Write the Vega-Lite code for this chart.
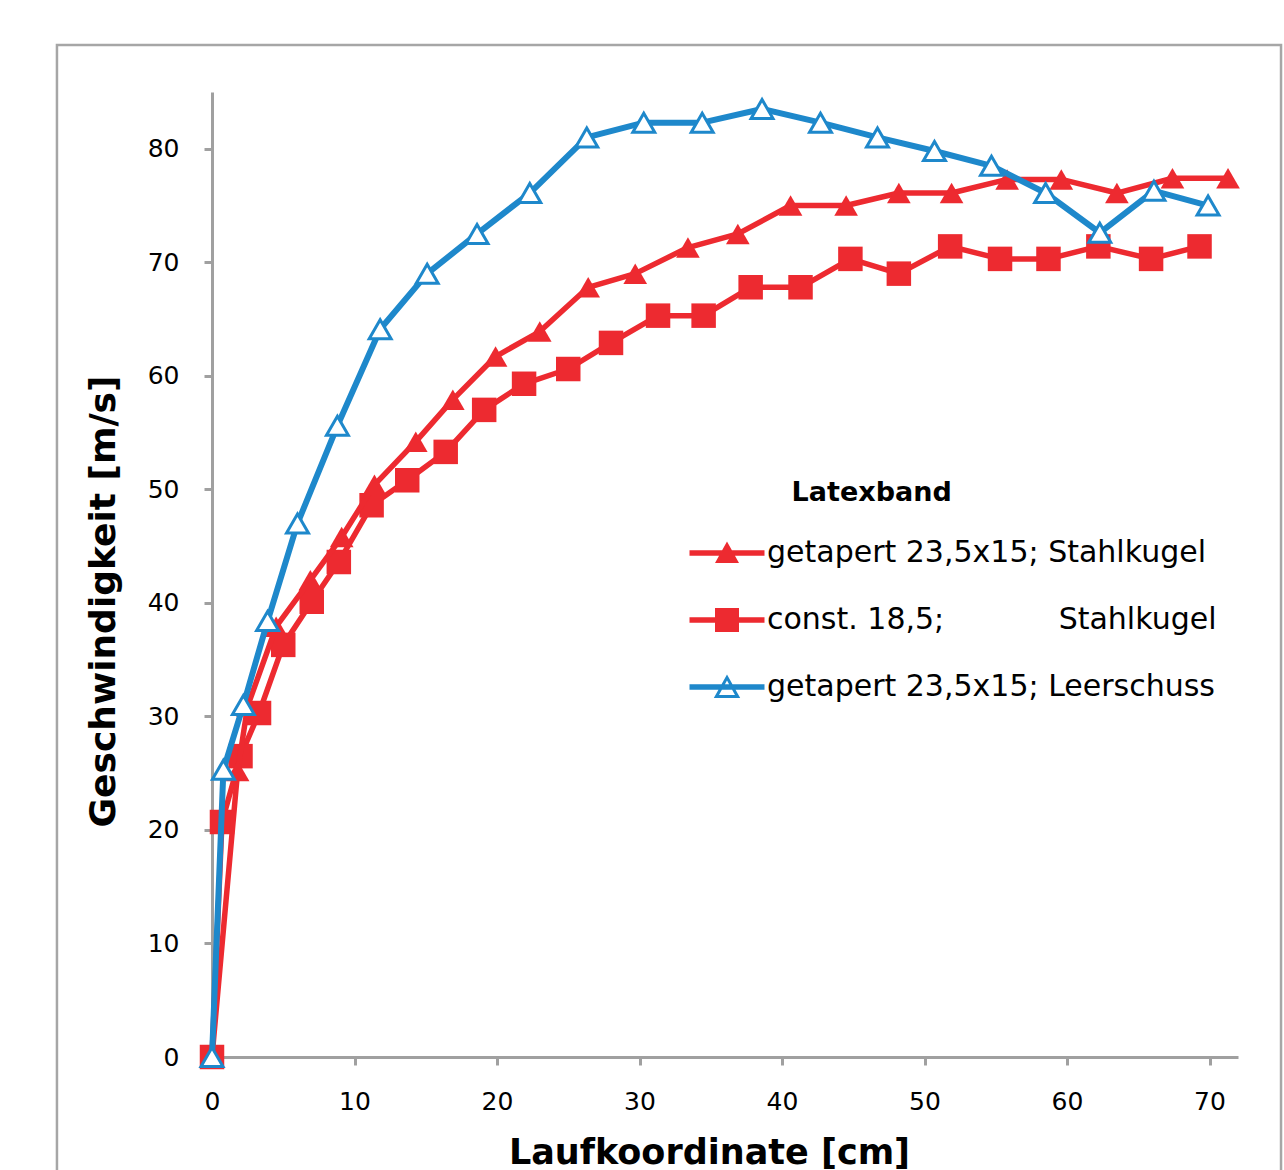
{
  "$schema": "https://vega.github.io/schema/vega-lite/v6.json",
  "autosize": {"type": "none"},
  "width": 1026,
  "height": 965,
  "padding": {"left": 212, "top": 92, "right": 46, "bottom": 113},
  "background": "white",
  "config": {
    "view": {"stroke": null},
    "font": "DejaVu Sans",
    "axis": {"grid": false}
  },
  "datasets": {
    "messung": [
      {"Serie": "getapert 23,5x15; Stahlkugel", "x": 0, "y": 0},
      {"Serie": "getapert 23,5x15; Stahlkugel", "x": 1.8, "y": 25.2},
      {"Serie": "getapert 23,5x15; Stahlkugel", "x": 2.5, "y": 30.9},
      {"Serie": "getapert 23,5x15; Stahlkugel", "x": 4.5, "y": 37.9},
      {"Serie": "getapert 23,5x15; Stahlkugel", "x": 6.9, "y": 42.0},
      {"Serie": "getapert 23,5x15; Stahlkugel", "x": 9.1, "y": 45.8},
      {"Serie": "getapert 23,5x15; Stahlkugel", "x": 11.4, "y": 50.4},
      {"Serie": "getapert 23,5x15; Stahlkugel", "x": 14.3, "y": 54.2},
      {"Serie": "getapert 23,5x15; Stahlkugel", "x": 16.9, "y": 57.9},
      {"Serie": "getapert 23,5x15; Stahlkugel", "x": 19.9, "y": 61.7},
      {"Serie": "getapert 23,5x15; Stahlkugel", "x": 23.0, "y": 63.9},
      {"Serie": "getapert 23,5x15; Stahlkugel", "x": 26.4, "y": 67.8},
      {"Serie": "getapert 23,5x15; Stahlkugel", "x": 29.7, "y": 69.0},
      {"Serie": "getapert 23,5x15; Stahlkugel", "x": 33.4, "y": 71.3},
      {"Serie": "getapert 23,5x15; Stahlkugel", "x": 36.9, "y": 72.5},
      {"Serie": "getapert 23,5x15; Stahlkugel", "x": 40.6, "y": 75.0},
      {"Serie": "getapert 23,5x15; Stahlkugel", "x": 44.5, "y": 75.0},
      {"Serie": "getapert 23,5x15; Stahlkugel", "x": 48.2, "y": 76.1},
      {"Serie": "getapert 23,5x15; Stahlkugel", "x": 51.9, "y": 76.1},
      {"Serie": "getapert 23,5x15; Stahlkugel", "x": 55.8, "y": 77.3},
      {"Serie": "getapert 23,5x15; Stahlkugel", "x": 59.6, "y": 77.3},
      {"Serie": "getapert 23,5x15; Stahlkugel", "x": 63.5, "y": 76.1},
      {"Serie": "getapert 23,5x15; Stahlkugel", "x": 67.4, "y": 77.4},
      {"Serie": "getapert 23,5x15; Stahlkugel", "x": 71.3, "y": 77.4},
      {"Serie": "const. 18,5;\u00a0\u00a0\u00a0\u00a0\u00a0\u00a0\u00a0\u00a0\u00a0\u00a0\u00a0\u00a0Stahlkugel", "x": 0, "y": 0},
      {"Serie": "const. 18,5;\u00a0\u00a0\u00a0\u00a0\u00a0\u00a0\u00a0\u00a0\u00a0\u00a0\u00a0\u00a0Stahlkugel", "x": 0.7, "y": 20.7},
      {"Serie": "const. 18,5;\u00a0\u00a0\u00a0\u00a0\u00a0\u00a0\u00a0\u00a0\u00a0\u00a0\u00a0\u00a0Stahlkugel", "x": 2.0, "y": 26.5},
      {"Serie": "const. 18,5;\u00a0\u00a0\u00a0\u00a0\u00a0\u00a0\u00a0\u00a0\u00a0\u00a0\u00a0\u00a0Stahlkugel", "x": 3.3, "y": 30.3},
      {"Serie": "const. 18,5;\u00a0\u00a0\u00a0\u00a0\u00a0\u00a0\u00a0\u00a0\u00a0\u00a0\u00a0\u00a0Stahlkugel", "x": 5.0, "y": 36.3},
      {"Serie": "const. 18,5;\u00a0\u00a0\u00a0\u00a0\u00a0\u00a0\u00a0\u00a0\u00a0\u00a0\u00a0\u00a0Stahlkugel", "x": 7.0, "y": 40.1},
      {"Serie": "const. 18,5;\u00a0\u00a0\u00a0\u00a0\u00a0\u00a0\u00a0\u00a0\u00a0\u00a0\u00a0\u00a0Stahlkugel", "x": 8.9, "y": 43.6},
      {"Serie": "const. 18,5;\u00a0\u00a0\u00a0\u00a0\u00a0\u00a0\u00a0\u00a0\u00a0\u00a0\u00a0\u00a0Stahlkugel", "x": 11.2, "y": 48.6},
      {"Serie": "const. 18,5;\u00a0\u00a0\u00a0\u00a0\u00a0\u00a0\u00a0\u00a0\u00a0\u00a0\u00a0\u00a0Stahlkugel", "x": 13.7, "y": 50.8},
      {"Serie": "const. 18,5;\u00a0\u00a0\u00a0\u00a0\u00a0\u00a0\u00a0\u00a0\u00a0\u00a0\u00a0\u00a0Stahlkugel", "x": 16.4, "y": 53.3},
      {"Serie": "const. 18,5;\u00a0\u00a0\u00a0\u00a0\u00a0\u00a0\u00a0\u00a0\u00a0\u00a0\u00a0\u00a0Stahlkugel", "x": 19.1, "y": 57.0},
      {"Serie": "const. 18,5;\u00a0\u00a0\u00a0\u00a0\u00a0\u00a0\u00a0\u00a0\u00a0\u00a0\u00a0\u00a0Stahlkugel", "x": 21.9, "y": 59.3},
      {"Serie": "const. 18,5;\u00a0\u00a0\u00a0\u00a0\u00a0\u00a0\u00a0\u00a0\u00a0\u00a0\u00a0\u00a0Stahlkugel", "x": 25.0, "y": 60.6},
      {"Serie": "const. 18,5;\u00a0\u00a0\u00a0\u00a0\u00a0\u00a0\u00a0\u00a0\u00a0\u00a0\u00a0\u00a0Stahlkugel", "x": 28.0, "y": 62.9},
      {"Serie": "const. 18,5;\u00a0\u00a0\u00a0\u00a0\u00a0\u00a0\u00a0\u00a0\u00a0\u00a0\u00a0\u00a0Stahlkugel", "x": 31.3, "y": 65.3},
      {"Serie": "const. 18,5;\u00a0\u00a0\u00a0\u00a0\u00a0\u00a0\u00a0\u00a0\u00a0\u00a0\u00a0\u00a0Stahlkugel", "x": 34.5, "y": 65.3},
      {"Serie": "const. 18,5;\u00a0\u00a0\u00a0\u00a0\u00a0\u00a0\u00a0\u00a0\u00a0\u00a0\u00a0\u00a0Stahlkugel", "x": 37.8, "y": 67.8},
      {"Serie": "const. 18,5;\u00a0\u00a0\u00a0\u00a0\u00a0\u00a0\u00a0\u00a0\u00a0\u00a0\u00a0\u00a0Stahlkugel", "x": 41.3, "y": 67.8},
      {"Serie": "const. 18,5;\u00a0\u00a0\u00a0\u00a0\u00a0\u00a0\u00a0\u00a0\u00a0\u00a0\u00a0\u00a0Stahlkugel", "x": 44.8, "y": 70.3},
      {"Serie": "const. 18,5;\u00a0\u00a0\u00a0\u00a0\u00a0\u00a0\u00a0\u00a0\u00a0\u00a0\u00a0\u00a0Stahlkugel", "x": 48.2, "y": 69.0},
      {"Serie": "const. 18,5;\u00a0\u00a0\u00a0\u00a0\u00a0\u00a0\u00a0\u00a0\u00a0\u00a0\u00a0\u00a0Stahlkugel", "x": 51.8, "y": 71.4},
      {"Serie": "const. 18,5;\u00a0\u00a0\u00a0\u00a0\u00a0\u00a0\u00a0\u00a0\u00a0\u00a0\u00a0\u00a0Stahlkugel", "x": 55.3, "y": 70.3},
      {"Serie": "const. 18,5;\u00a0\u00a0\u00a0\u00a0\u00a0\u00a0\u00a0\u00a0\u00a0\u00a0\u00a0\u00a0Stahlkugel", "x": 58.7, "y": 70.3},
      {"Serie": "const. 18,5;\u00a0\u00a0\u00a0\u00a0\u00a0\u00a0\u00a0\u00a0\u00a0\u00a0\u00a0\u00a0Stahlkugel", "x": 62.2, "y": 71.4},
      {"Serie": "const. 18,5;\u00a0\u00a0\u00a0\u00a0\u00a0\u00a0\u00a0\u00a0\u00a0\u00a0\u00a0\u00a0Stahlkugel", "x": 65.9, "y": 70.3},
      {"Serie": "const. 18,5;\u00a0\u00a0\u00a0\u00a0\u00a0\u00a0\u00a0\u00a0\u00a0\u00a0\u00a0\u00a0Stahlkugel", "x": 69.3, "y": 71.4},
      {"Serie": "getapert 23,5x15; Leerschuss", "x": 0, "y": 0},
      {"Serie": "getapert 23,5x15; Leerschuss", "x": 0.8, "y": 25.3},
      {"Serie": "getapert 23,5x15; Leerschuss", "x": 2.2, "y": 31.0},
      {"Serie": "getapert 23,5x15; Leerschuss", "x": 3.9, "y": 38.4},
      {"Serie": "getapert 23,5x15; Leerschuss", "x": 6.0, "y": 47.0},
      {"Serie": "getapert 23,5x15; Leerschuss", "x": 8.8, "y": 55.6},
      {"Serie": "getapert 23,5x15; Leerschuss", "x": 11.8, "y": 64.1},
      {"Serie": "getapert 23,5x15; Leerschuss", "x": 15.1, "y": 69.0},
      {"Serie": "getapert 23,5x15; Leerschuss", "x": 18.6, "y": 72.5},
      {"Serie": "getapert 23,5x15; Leerschuss", "x": 22.3, "y": 76.1},
      {"Serie": "getapert 23,5x15; Leerschuss", "x": 26.3, "y": 81.0},
      {"Serie": "getapert 23,5x15; Leerschuss", "x": 30.3, "y": 82.3},
      {"Serie": "getapert 23,5x15; Leerschuss", "x": 34.4, "y": 82.3},
      {"Serie": "getapert 23,5x15; Leerschuss", "x": 38.6, "y": 83.5},
      {"Serie": "getapert 23,5x15; Leerschuss", "x": 42.7, "y": 82.3},
      {"Serie": "getapert 23,5x15; Leerschuss", "x": 46.7, "y": 81.0},
      {"Serie": "getapert 23,5x15; Leerschuss", "x": 50.7, "y": 79.8},
      {"Serie": "getapert 23,5x15; Leerschuss", "x": 54.7, "y": 78.5},
      {"Serie": "getapert 23,5x15; Leerschuss", "x": 58.5, "y": 76.1},
      {"Serie": "getapert 23,5x15; Leerschuss", "x": 62.3, "y": 72.6},
      {"Serie": "getapert 23,5x15; Leerschuss", "x": 66.1, "y": 76.3},
      {"Serie": "getapert 23,5x15; Leerschuss", "x": 69.9, "y": 75.0}
    ]
  },
  "layer": [
    {
      "data": {"values": [{"Rahmen": "Diagrammbereich"}]},
      "mark": {"type": "rect", "filled": false, "stroke": "#a6a6a6", "strokeWidth": 2.5, "clip": false},
      "encoding": {
        "x": {"datum": -10.88, "type": "quantitative", "scale": {"domain": [0, 72], "nice": false, "zero": false}},
        "x2": {"datum": 75.02},
        "y": {"datum": 89.14, "type": "quantitative", "scale": {"domain": [0, 85], "nice": false, "zero": false}},
        "y2": {"datum": -12}
      }
    },
    {
      "data": {"name": "messung"},
      "encoding": {
        "x": {
          "field": "x", "type": "quantitative",
          "scale": {"domain": [0, 72], "nice": false, "zero": false},
          "axis": {
            "title": "Laufkoordinate [cm]",
            "values": [0, 10, 20, 30, 40, 50, 60, 70],
            "format": "d", "labelFlush": false,
            "domainColor": "#a0a0a0", "domainWidth": 3,
            "tickColor": "#a0a0a0", "tickWidth": 3, "tickSize": 8,
            "labelFont": "DejaVu Sans", "labelFontSize": 25, "labelColor": "#000000", "labelPadding": 24,
            "titleFont": "DejaVu Sans", "titleFontSize": 35, "titleFontWeight": "bold", "titleColor": "#000000",
            "titlePadding": 21, "titleX": 497
          }
        },
        "y": {
          "field": "y", "type": "quantitative",
          "scale": {"domain": [0, 85], "nice": false, "zero": false},
          "axis": {
            "title": "Geschwindigkeit [m/s]",
            "values": [0, 10, 20, 30, 40, 50, 60, 70, 80],
            "format": "d", "labelFlush": false,
            "domainColor": "#a0a0a0", "domainWidth": 3,
            "tickColor": "#a0a0a0", "tickWidth": 3, "tickSize": 8,
            "labelFont": "DejaVu Sans", "labelFontSize": 25, "labelColor": "#000000", "labelPadding": 25,
            "titleFont": "DejaVu Sans", "titleFontSize": 36, "titleFontWeight": "bold", "titleColor": "#000000",
            "titlePadding": 25, "titleY": 509
          }
        }
      },
      "layer": [
        {
          "transform": [{"filter": {"field": "Serie", "equal": "const. 18,5;\u00a0\u00a0\u00a0\u00a0\u00a0\u00a0\u00a0\u00a0\u00a0\u00a0\u00a0\u00a0Stahlkugel"}}],
          "mark": {"type": "line", "color": "#ed2a30", "strokeWidth": 5.5, "strokeJoin": "round"}
        },
        {
          "transform": [{"filter": {"field": "Serie", "equal": "const. 18,5;\u00a0\u00a0\u00a0\u00a0\u00a0\u00a0\u00a0\u00a0\u00a0\u00a0\u00a0\u00a0Stahlkugel"}}],
          "mark": {"type": "point", "shape": "square", "size": 600, "filled": true, "color": "#ed2a30", "opacity": 1}
        },
        {
          "transform": [{"filter": {"field": "Serie", "equal": "getapert 23,5x15; Stahlkugel"}}],
          "mark": {"type": "line", "color": "#ed2a30", "strokeWidth": 5.5, "strokeJoin": "round"}
        },
        {
          "transform": [{"filter": {"field": "Serie", "equal": "getapert 23,5x15; Stahlkugel"}}],
          "mark": {"type": "point", "shape": "triangle-up", "size": 560, "filled": true, "color": "#ed2a30", "opacity": 1}
        },
        {
          "transform": [{"filter": {"field": "Serie", "equal": "getapert 23,5x15; Leerschuss"}}],
          "mark": {"type": "line", "color": "#1e88cb", "strokeWidth": 6, "strokeJoin": "round"}
        },
        {
          "transform": [{"filter": {"field": "Serie", "equal": "getapert 23,5x15; Leerschuss"}}],
          "mark": {"type": "point", "shape": "triangle-up", "size": 480, "filled": false, "fill": "white", "fillOpacity": 1, "stroke": "#1e88cb", "strokeWidth": 3, "opacity": 1}
        },
        {
          "transform": [{"filter": "false"}],
          "mark": {"type": "point", "filled": true, "opacity": 1},
          "encoding": {
            "shape": {
              "field": "Serie", "type": "nominal",
              "scale": {
                "domain": ["getapert 23,5x15; Stahlkugel", "const. 18,5;\u00a0\u00a0\u00a0\u00a0\u00a0\u00a0\u00a0\u00a0\u00a0\u00a0\u00a0\u00a0Stahlkugel", "getapert 23,5x15; Leerschuss"],
                "range": [
                  "M-1.875,-0.14H1.875V0.14H-1.875Z M0,-0.58L0.6,0.5H-0.6Z",
                  "M-1.875,-0.14H1.875V0.14H-1.875Z M-0.6,-0.6H0.6V0.6H-0.6Z",
                  "M-1.875,-0.14H1.875V0.14H-1.875Z M0,-0.62L0.66,0.55H-0.66Z M0,-0.32L-0.4,0.4H0.4Z"
                ]
              },
              "legend": {
                "orient": "none", "legendX": 495, "legendY": 388,
                "title": "\u2060\u00a0\u00a0\u00a0\u00a0\u00a0\u00a0\u00a0\u00a0\u00a0Latexband",
                "titleFont": "DejaVu Sans", "titleFontSize": 27, "titleFontWeight": "bold", "titleColor": "#000000",
                "titlePadding": 26, "titleLimit": 500,
                "labelFont": "DejaVu Sans", "labelFontSize": 30, "labelColor": "#000000", "labelOffset": 20, "labelLimit": 700,
                "symbolSize": 1600, "symbolStrokeWidth": 0, "symbolOpacity": 1, "rowPadding": 32, "padding": 0
              }
            },
            "color": {
              "field": "Serie", "type": "nominal",
              "scale": {
                "domain": ["getapert 23,5x15; Stahlkugel", "const. 18,5;\u00a0\u00a0\u00a0\u00a0\u00a0\u00a0\u00a0\u00a0\u00a0\u00a0\u00a0\u00a0Stahlkugel", "getapert 23,5x15; Leerschuss"],
                "range": ["#ed2a30", "#ed2a30", "#1e88cb"]
              }
            }
          }
        }
      ]
    }
  ]
}
